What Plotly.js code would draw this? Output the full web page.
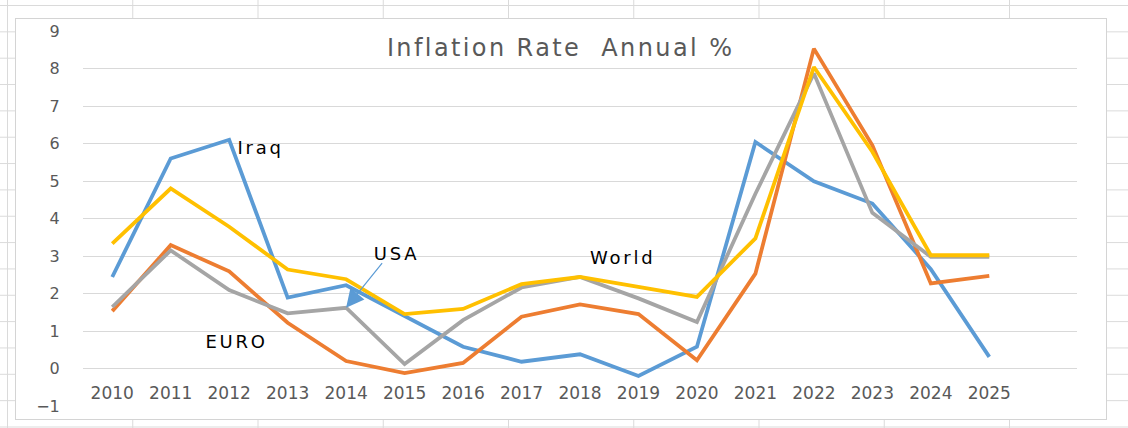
<!DOCTYPE html>
<html>
<head>
<meta charset="utf-8">
<script src="https://cdn.plot.ly/plotly-3.0.1.min.js"></script>
<style>
  html, body { margin: 0; padding: 0; background: #ffffff; }
  #sheet {
    position: relative; width: 1128px; height: 428px; overflow: hidden;
    background-color: #ffffff;
    background-image:
      linear-gradient(to right, #dadada 1px, transparent 1px),
      linear-gradient(to bottom, #dadada 1px, transparent 1px);
    background-size: 125.25px 100%, 100% 26.35px;
    background-position: 7px 0, 0 5px;
  }
  #frame {
    position: absolute; left: 15px; top: 18px; width: 1090px; height: 400px;
    background: #ffffff; border: 1.5px solid #d4d4d4;
  }
  #chart { position: absolute; left: 0; top: 0; width: 1128px; height: 428px; }
  #chart .gtitle { letter-spacing: 2.4px; }
  #chart .annotation-text { letter-spacing: 2.8px; }
</style>
</head>
<body>
<div id="sheet">
  <div id="frame"></div>
  <div id="chart"></div>
</div>
<script>
// Categories
const years = ['2010','2011','2012','2013','2014','2015','2016','2017','2018','2019','2020','2021','2022','2023','2024','2025'];

// Series values (annual inflation, %)
const iraq  = [2.44, 5.60, 6.10, 1.89, 2.22, 1.40, 0.58, 0.18, 0.38, -0.20, 0.58, 6.04, 4.99, 4.40, 2.65, 0.31];
const euro  = [1.53, 3.29, 2.59, 1.22, 0.20, -0.12, 0.15, 1.38, 1.71, 1.45, 0.22, 2.53, 8.53, 5.95, 2.27, 2.47];
const usa   = [1.64, 3.15, 2.09, 1.47, 1.62, 0.12, 1.29, 2.16, 2.44, 1.87, 1.24, 4.66, 7.87, 4.15, 2.98, 2.98];
const world = [3.33, 4.80, 3.78, 2.64, 2.38, 1.45, 1.59, 2.25, 2.44, 2.18, 1.91, 3.47, 8.04, 5.78, 3.02, 3.02];

// Y-axis tick values
const yTicks = [-1, 0, 1, 2, 3, 4, 5, 6, 7, 8, 9];

const xIdx = years.map((_, i) => i);

function series(name, vals, color) {
  return {
    type: 'scatter', mode: 'lines', name: name,
    x: xIdx, y: vals,
    line: { color: color, width: 3.8, shape: 'linear' },
    hoverinfo: 'skip'
  };
}

const data = [
  series('Iraq', iraq, '#5B9BD5'),
  series('EURO', euro, '#ED7D31'),
  series('USA', usa, '#A5A5A5'),
  series('World', world, '#FFC000')
];

const labelFont = { family: 'DejaVu Sans', size: 18, color: '#000000' };

const layout = {
  width: 1128, height: 428,
  margin: { l: 83, r: 51, t: 31, b: 22 },
  paper_bgcolor: 'rgba(0,0,0,0)',
  plot_bgcolor: 'rgba(0,0,0,0)',
  showlegend: false,
  title: {
    text: 'Inflation Rate\u00a0 Annual %',
    font: { family: 'DejaVu Sans', size: 24, color: '#595959' },
    xref: 'container', yref: 'container',
    x: 0.497, y: 1 - 48 / 428, xanchor: 'center', yanchor: 'middle'
  },
  xaxis: {
    range: [-0.5, 16.5],
    tickmode: 'array', tickvals: xIdx, ticktext: years,
    anchor: 'free', position: 0.1,
    showgrid: false, zeroline: false, showline: false,
    ticks: 'outside', ticklen: 9, tickcolor: 'rgba(0,0,0,0)',
    tickfont: { family: 'DejaVu Sans', size: 17, color: '#595959' },
    fixedrange: true
  },
  yaxis: {
    range: [-1, 9],
    tickmode: 'array', tickvals: yTicks,
    showgrid: true, gridcolor: '#d9d9d9', gridwidth: 1,
    zeroline: false, showline: false,
    ticks: 'outside', ticklen: 19, tickcolor: 'rgba(0,0,0,0)',
    tickfont: { family: 'DejaVu Sans', size: 16, color: '#595959' },
    fixedrange: true
  },
  annotations: [
    { text: 'Iraq',  x: 2.53, y: 5.90, xref: 'x', yref: 'y', showarrow: false, font: labelFont },
    { text: 'USA',   x: 4.87, y: 3.07, xref: 'x', yref: 'y', showarrow: false, font: labelFont },
    { text: 'World', x: 8.74, y: 2.95, xref: 'x', yref: 'y', showarrow: false, font: labelFont },
    { text: 'EURO',  x: 2.12, y: 0.71, xref: 'x', yref: 'y', showarrow: false, font: labelFont },
    { text: ' ', x: 4, y: usa[4], xref: 'x', yref: 'y', showarrow: true,
      ax: 38, ay: -47, standoff: 0, arrowcolor: '#5B9BD5', arrowwidth: 1.2, arrowhead: 2, arrowsize: 3,
      font: { size: 2 } }
  ]
};

Plotly.newPlot('chart', data, layout, { staticPlot: true, displayModeBar: false });
</script>
</body>
</html>
